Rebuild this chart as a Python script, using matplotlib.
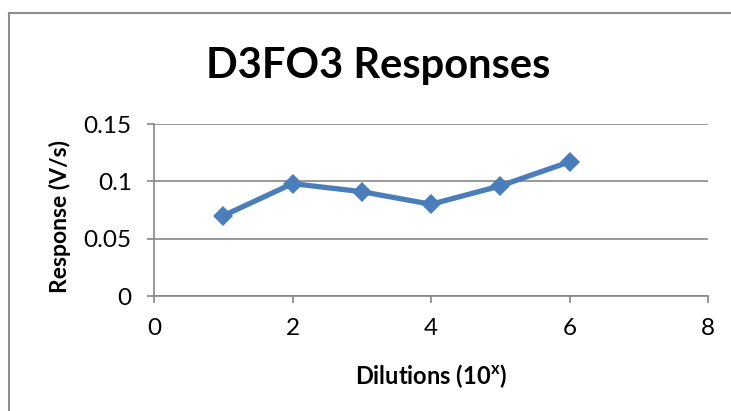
import matplotlib
matplotlib.use("Agg")
import matplotlib.pyplot as plt
from matplotlib.lines import Line2D

plt.rcParams["font.family"] = ["Lato", "DejaVu Sans"]

# data
dilutions = [1, 2, 3, 4, 5, 6]
responses = [0.070, 0.098, 0.091, 0.080, 0.096, 0.117]

x_ticks = [0, 2, 4, 6, 8]
y_ticks = [0, 0.05, 0.1, 0.15]
y_labels = ["0", "0.05", "0.1", "0.15"]

W, H = 731, 411
fig = plt.figure(figsize=(W / 100, H / 100), dpi=100)
fig.patch.set_facecolor("white")

# outer chart frame: only left and top edges are visible in the crop
fx, fy = 9 / W, 1 - 13 / H
fig.lines.append(Line2D([fx, fx], [0, fy], transform=fig.transFigure,
                        color="#8c8c8c", linewidth=1.5))
fig.lines.append(Line2D([fx, 1], [fy, fy], transform=fig.transFigure,
                        color="#8c8c8c", linewidth=1.5))

left, right, top, bottom = 154, 708, 124, 296
ax = fig.add_axes([left / W, 1 - bottom / H, (right - left) / W, (bottom - top) / H])

ax.plot(dilutions, responses, color="#4a7ebb", linewidth=3.8,
        marker="D", markersize=10.5, markeredgewidth=0, zorder=3, clip_on=False)

ax.set_xlim(0, 8)
ax.set_ylim(0, 0.15)
ax.set_xticks(x_ticks)
ax.set_yticks(y_ticks)
ax.set_yticklabels(y_labels)

for s in ["top", "right"]:
    ax.spines[s].set_visible(False)
for s in ["left", "bottom"]:
    ax.spines[s].set_color("#868686")
    ax.spines[s].set_linewidth(1.2)

ax.yaxis.grid(True, color="#868686", linewidth=1.2)
ax.set_axisbelow(True)
ax.tick_params(axis="both", direction="out", length=5, width=1.2,
               color="#868686", labelsize=17.5, labelcolor="black")
ax.tick_params(axis="x", pad=11)
ax.tick_params(axis="y", pad=11)

ax.set_xlabel("Dilutions (10$^{\\mathregular{x}}$)", fontsize=17, fontweight="bold")
ax.xaxis.set_label_coords(0.5, (296 - 376) / 172, transform=ax.transAxes)
ax.xaxis.label.set_va("center")
ax.set_ylabel("Response (V/s)", fontsize=16.5, fontweight="bold")
ax.yaxis.set_label_coords((60 - left) / (right - left), (296 - 216) / 172, transform=ax.transAxes)
ax.yaxis.label.set_va("center")

fig.text(378 / W, 1 - 66 / H, "D3FO3 Responses", fontsize=30, fontweight="bold",
         ha="center", va="center")

fig.savefig("out.png", dpi=100, facecolor="white")
